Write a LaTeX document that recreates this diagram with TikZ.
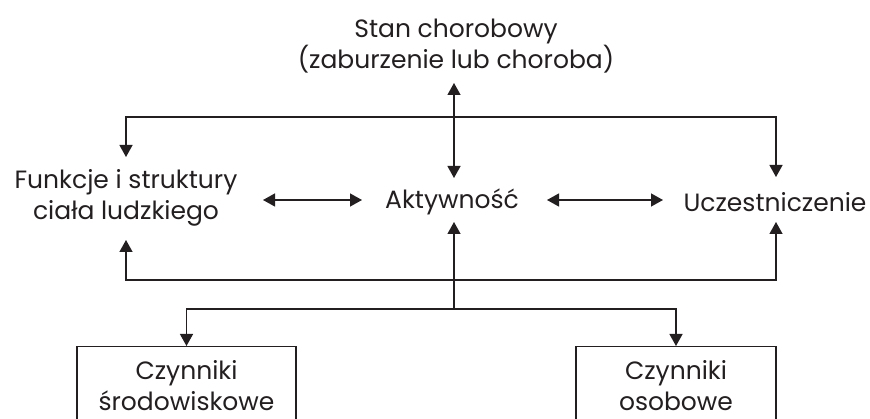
\documentclass[tikz,border=0pt]{standalone}
\usepackage{fontspec}
\setmainfont{Poppins}
\usetikzlibrary{arrows.meta}
\definecolor{ink}{HTML}{231F20}
\begin{document}
\begin{tikzpicture}[x=1pt,y=-1pt,
  lbl/.style={text=ink,align=center,font=\fontsize{25}{31}\selectfont,inner sep=0pt},
  boxnode/.style={lbl,draw=ink,line width=1.3pt,minimum width=#1,minimum height=78pt,anchor=north},
  conn/.style={draw=ink,line width=1.3pt},
  arr/.style={conn,-{Triangle[length=12pt,width=13pt]}},
  darr/.style={conn,{Triangle[length=12pt,width=13pt]}-{Triangle[length=12pt,width=13pt]}}]
\clip (0,0) rectangle (870,419);
\fill[white] (0,0) rectangle (870,419);
\node[lbl] (stan) at (456,46) {Stan chorobowy\\(zaburzenie lub choroba)};
\node[lbl] (funk) at (126,198) {Funkcje i struktury\\ciała ludzkiego};
\node[lbl] (akt) at (452,202) {Aktywność};
\node[lbl] (ucz) at (775,202) {Uczestniczenie};
\node[boxnode=219pt] (env) at (186.5,346) {Czynniki\\środowiskowe};
\node[boxnode=200pt] (oso) at (676,346) {Czynniki\\osobowe};
% connector end points
\coordinate (sB) at (454,83);
\coordinate (aT) at (454,178);
\coordinate (aB) at (454,222);
\coordinate (jt) at (454,117);
\coordinate (jb) at (454,280);
\coordinate (jx) at (454,309);
\coordinate (fT) at (126,157);
\coordinate (fB) at (126,240);
\coordinate (uT) at (776,177);
\coordinate (uB) at (776,222);
\coordinate (fR) at (263,200);
\coordinate (aL) at (362,200);
\coordinate (aR) at (547,200);
\coordinate (uL) at (663,200);
% connectors
\draw[darr] (sB) -- (aT);
\draw[arr] (jt) -| (fT);
\draw[arr] (jt) -| (uT);
\draw[darr] (fR) -- (aL);
\draw[darr] (aR) -- (uL);
\draw[arr] (jb) -| (fB);
\draw[arr] (jb) -| (uB);
\draw[arr] (jx) -- (aB);
\draw[arr] (jx) -| (env.north);
\draw[arr] (jx) -| (oso.north);
\end{tikzpicture}
\end{document}
